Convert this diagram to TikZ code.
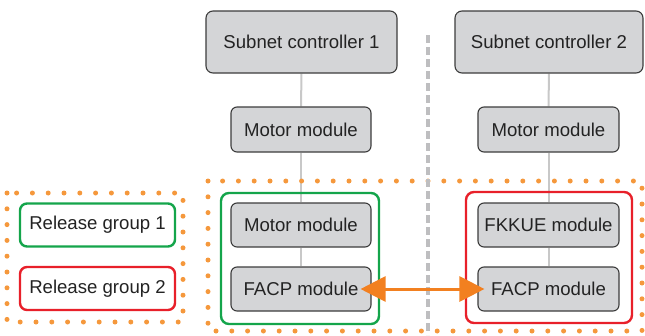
\documentclass[tikz,border=0pt]{standalone}
\usepackage{fontspec}
\setmainfont{Liberation Sans}
\usetikzlibrary{arrows.meta}
\pgfdeclarelayer{links}
\pgfsetlayers{links,main}
\definecolor{boxfill}{RGB}{212,213,215}
\definecolor{boxline}{RGB}{60,60,60}
\definecolor{linkgray}{RGB}{200,200,200}
\definecolor{sepgray}{RGB}{190,190,192}
\definecolor{dotorange}{RGB}{245,152,60}
\definecolor{arroworange}{RGB}{242,128,32}
\definecolor{grpgreen}{RGB}{20,165,75}
\definecolor{grpred}{RGB}{232,32,42}
\definecolor{txt}{RGB}{35,35,35}
\begin{document}
\begin{tikzpicture}[x=1pt,y=-1pt,
  font=\fontsize{18.6}{22}\selectfont,
  module/.style={draw=boxline,fill=boxfill,line width=1.1pt,rounded corners=6pt,
    text=txt,inner sep=0pt,minimum width=140pt,minimum height=44pt},
  ctrl/.style={module,rounded corners=7pt,minimum width=191pt,minimum height=62pt},
  legend/.style={draw,line width=2.4pt,rounded corners=7pt,fill=white,text=txt,
    inner sep=0pt,minimum width=155pt,minimum height=43pt},
  link/.style={draw=linkgray,line width=2pt},
  groupframe/.style={line width=2.4pt,rounded corners=8pt},
  dotframe/.style={draw=dotorange,line width=5pt,line cap=round,dash pattern=on 0pt off 15.8pt},
  both/.style={draw=arroworange,line width=3pt,
    {Triangle[length=25pt,width=25pt]}-{Triangle[length=25pt,width=25pt]}}
]
\useasboundingbox (0,0) rectangle (645,335);

% dotted orange frames
\draw[dotframe] (7,193) rectangle (183,322);
\draw[dotframe] (208,181) rectangle (642,331);

% separator between the two subnets
\coordinate (septop) at (428,35);
\coordinate (sepbot) at (428,335);
\draw[draw=sepgray,line width=4pt,dash pattern=on 8pt off 4pt] (septop) -- (sepbot);

% release group frames
\draw[groupframe,draw=grpgreen] (221,193) rectangle (379,324);
\draw[groupframe,draw=grpred] (466,192) rectangle (632,323);

% left subnet
\node[ctrl] (sc1) at (301.5,42) {Subnet controller 1};
\node[module,minimum height=45pt] (mm1) at (301,129.5) {Motor module};
\node[module] (mm3) at (301,225) {Motor module};
\node[module] (facp1) at (301,289) {FACP module};

% right subnet
\node[ctrl,minimum width=188pt] (sc2) at (549,42) {Subnet controller 2};
\node[module,minimum width=141pt,minimum height=45pt] (mm2) at (548.5,129.5) {Motor module};
\node[module,minimum width=141pt] (fk) at (548.5,225) {FKKUE module};
\node[module,minimum width=141pt] (facp2) at (548.5,289) {FACP module};

% legend
\node[legend,draw=grpgreen] (rg1) at (97.5,225) {Release group 1};
\node[legend,draw=grpred] (rg2) at (97.5,288.5) {Release group 2};

% bus links, kept behind frames and modules
\begin{pgfonlayer}{links}
\path[link] (sc1.south) -- (mm1.north);
\path[link] (mm1.south) -- (mm3.north);
\path[link] (mm3.south) -- (facp1.north);
\path[link] (sc2.south) -- (mm2.north);
\path[link] (mm2.south) -- (fk.north);
\path[link] (fk.south) -- (facp2.north);
\end{pgfonlayer}

% cross-subnet release link
\draw[both,shorten <=-11pt,shorten >=-7pt] (facp1.east) -- (facp2.west);
\end{tikzpicture}
\end{document}
